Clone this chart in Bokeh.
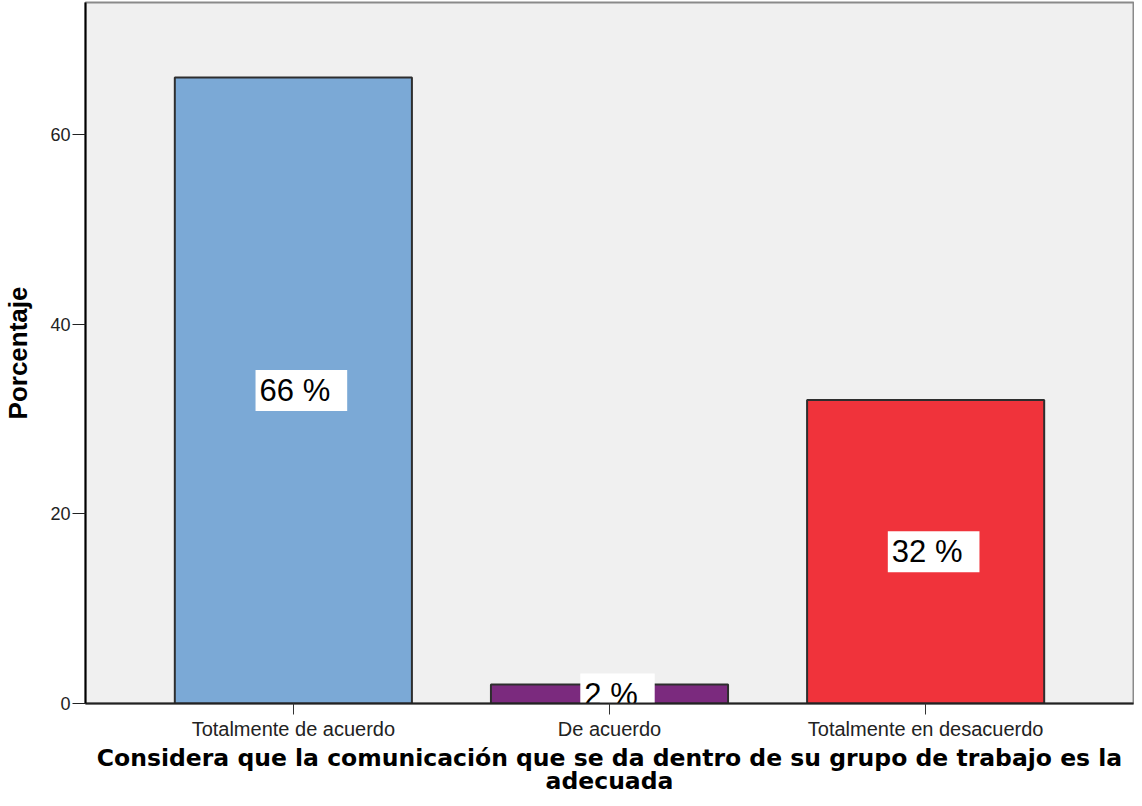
from bokeh.plotting import figure
from bokeh.models import ColumnDataSource, FactorRange, FixedTicker
from bokeh.core.properties import value
from bokeh.embed import file_html
from bokeh.resources import INLINE

categories = ["Totalmente de acuerdo", "De acuerdo", "Totalmente en desacuerdo"]
percentages = [66, 2, 32]
bar_colors = ["#7BA9D6", "#7B2A7E", "#F0333B"]
bar_labels = ["66 %", "2 %", "32 %"]
y_ticks = [0, 20, 40, 60]
x_title = "Considera que la comunicación que se da dentro de su grupo de trabajo es la\nadecuada"
y_title = "Porcentaje"

source = ColumnDataSource(dict(
    cat=categories,
    val=percentages,
    mid=[v / 2 for v in percentages],
    color=bar_colors,
    label=bar_labels,
))

p = figure(
    x_range=FactorRange(*categories, range_padding=0.105),
    y_range=(0, 73.9),
    width=1134, height=798,
    output_backend="svg", toolbar_location=None,
    min_border_left=85, min_border_right=1, min_border_top=2, min_border_bottom=94,
    background_fill_color="#F0F0F0", border_fill_color="white",
)
p.outline_line_color = "#8A8A8A"
p.outline_line_width = 2

p.vbar(x="cat", top="val", width=0.75, source=source, fill_color="color",
       line_color="#2E2E2E", line_width=2)

p.text(x="cat", y="mid", text="label", source=source,
       text_font=value("Liberation Sans"), text_font_size="31px",
       text_color="black", text_align="center", text_baseline="middle",
       x_offset=8,
       background_fill_color="white",
       padding=dict(left=4, right=17, top=3, bottom=3))

p.xgrid.grid_line_color = None
p.ygrid.grid_line_color = None

p.yaxis.ticker = FixedTicker(ticks=y_ticks)
p.yaxis.minor_tick_line_color = None
p.yaxis.major_tick_out = 13
p.yaxis.major_tick_in = 0
p.yaxis.axis_line_color = "black"
p.yaxis.axis_line_width = 2
p.yaxis.major_tick_line_color = "#222222"
p.yaxis.major_label_text_font = "Liberation Sans"
p.yaxis.major_label_text_font_size = "18px"
p.yaxis.major_label_text_color = "#222222"
p.yaxis.major_label_standoff = 2
p.yaxis.axis_label = y_title
p.yaxis.axis_label_text_font = "Liberation Sans"
p.yaxis.axis_label_text_font_style = "bold"
p.yaxis.axis_label_text_font_size = "26px"
p.yaxis.axis_label_text_color = "black"
p.yaxis.axis_label_standoff = 14

p.xaxis.major_tick_out = 11
p.xaxis.major_tick_in = 0
p.xaxis.axis_line_color = "#222222"
p.xaxis.axis_line_width = 2
p.xaxis.major_tick_line_color = "#333333"
p.xaxis.major_label_text_font = "Liberation Sans"
p.xaxis.major_label_text_font_size = "20px"
p.xaxis.major_label_text_color = "#222222"
p.xaxis.major_label_standoff = 3
p.xaxis.axis_label = x_title
p.xaxis.axis_label_text_font = "DejaVu Sans"
p.xaxis.axis_label_text_font_style = "bold"
p.xaxis.axis_label_text_font_size = "23.5px"
p.xaxis.axis_label_text_color = "black"
p.xaxis.axis_label_text_line_height = 0.85
p.xaxis.axis_label_standoff = 1

open("out.html", "w").write(file_html(p, INLINE))
